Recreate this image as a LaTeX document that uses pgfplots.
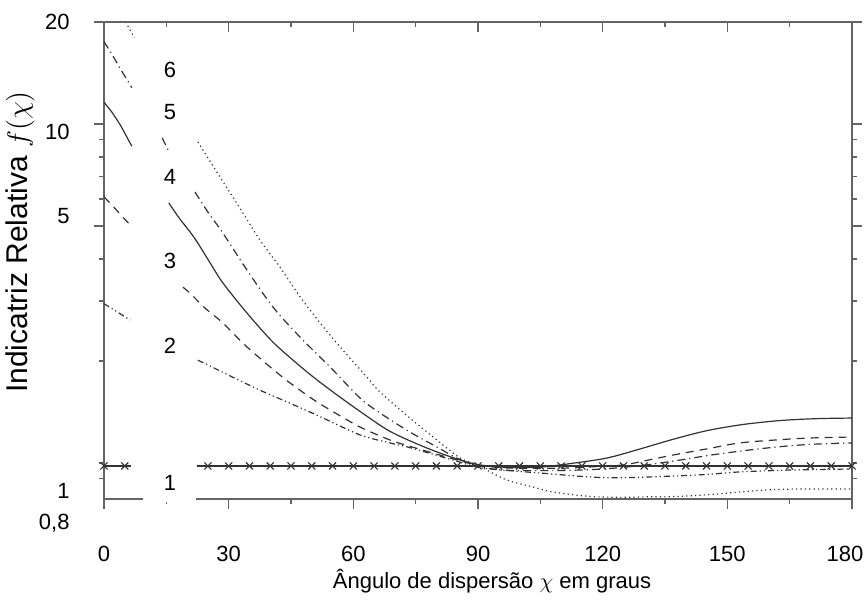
\documentclass[border=0pt]{standalone}
\usepackage{fontspec}
\setmainfont{Liberation Sans}
\usepackage{pgfplots}
\pgfplotsset{compat=1.18}
\definecolor{axgray}{RGB}{100,100,100}
\definecolor{crv}{RGB}{50,50,50}

\begin{document}
\begin{tikzpicture}[font=\fontsize{11}{13}\selectfont]
\begin{axis}[
  name=main,
  scale only axis, width=374pt, height=238.5pt,
  xmin=0, xmax=180, ymin=0.783, ymax=20, ymode=log,
  clip mode=individual,
  axis line style={axgray, line width=0.8pt},
  xtick={0,30,...,180}, minor xtick={15,45,...,165},
  xticklabels={0,30,60,90,120,150,\hspace*{-7pt}180},
  xtick pos=bottom, tick align=outside,
  ytick={5,10,20}, minor ytick={0.9,1,2,3,4,6,7,8,9},
  ytick pos=both, yticklabels={},
  major tick length=5pt, minor tick length=2.5pt,
  every tick/.style={axgray, line width=0.8pt},
  xticklabel style={yshift=-15pt},
  xlabel={Ângulo de dispersão $\chi$ em graus},
  xlabel style={at={(axis description cs:0.5187,-0.1719)}, anchor=center, inner sep=0pt},
  ylabel={Indicatriz Relativa $f(\chi)$},
  ylabel style={at={(axis description cs:-0.1123,0.5388)}, anchor=center, inner sep=0pt,
    font=\fontsize{15}{17}\selectfont},
  every axis plot/.append style={crv, line width=0.6pt},
]
% curve 6 (dotted)
\addplot[dash pattern=on 0.6pt off 1.6pt] coordinates {(4.0,21)(5.0,20.2)(6.0,19.2)(7.3,18.0)};
\addplot[dash pattern=on 0.6pt off 1.6pt, smooth] coordinates {
 (22.6,8.85)(25,7.95)(27.9,6.98)(32.7,5.65)(37.5,4.55)(42.3,3.79)(47.2,3.09)(52,2.59)
 (56.8,2.20)(63.3,1.79)(66.4,1.62)(73.6,1.357)(80.1,1.169)(85.7,1.034)(89.75,0.987)
 (95.3,0.909)(98.4,0.879)(103.2,0.850)(108,0.821)(116.9,0.797)(124.9,0.792)(131.4,0.795)
 (138.6,0.797)(147.5,0.810)(153,0.821)(159.5,0.833)(167.5,0.838)(180,0.838)};
% curve 5 (dash-dot)
\addplot[dash pattern=on 4pt off 2pt on 0.6pt off 2pt] coordinates {(0,17.5)(2,16)(4,14.5)(6.7,12.8)};
\addplot[dash pattern=on 4pt off 2pt on 0.6pt off 2pt] coordinates {(14,9.1)(15.4,8.4)};
\addplot[dash pattern=on 4pt off 2pt on 0.6pt off 2pt, smooth] coordinates {
 (21.9,6.30)(25,5.5)(28.6,4.77)(34.4,3.71)(40.7,2.88)(47.2,2.35)(54.4,1.92)(61.6,1.555)
 (66.4,1.405)(73.6,1.234)(80.1,1.115)(84.9,1.034)(89.75,0.98)(95,0.955)(100,0.95)
 (110,0.95)(120,0.96)(130,0.985)(138.6,1.02)(146,1.055)(154.7,1.09)(162,1.115)
 (170,1.135)(180,1.146)};
% curve 4 (solid)
\addplot[solid] coordinates {(0,11.6)(2,10.8)(4,9.9)(6.7,8.6)};
\addplot[solid, smooth] coordinates {
 (15.6,5.85)(18,5.3)(20.9,4.77)(22.6,4.45)(25.5,3.9)(28.6,3.40)(34.4,2.77)(40.7,2.27)
 (47.2,1.93)(51.3,1.757)(56,1.59)(61.6,1.42)(68.8,1.24)(77.7,1.107)(85.7,1.02)
 (90.5,0.987)(96,0.972)(100,0.97)(105,0.972)(112,0.995)(121,1.034)(129,1.10)
 (137,1.175)(145,1.245)(153,1.295)(160,1.325)(165,1.34)(172,1.352)(180,1.357)};
% curve 3 (dashed)
\addplot[dash pattern=on 4pt off 3pt] coordinates {(0,6.1)(2,5.75)(4.6,5.3)(6.3,5.04)};
\addplot[dash pattern=on 4pt off 3pt, smooth] coordinates {
 (19,3.30)(20.7,3.17)(24.5,2.85)(28.6,2.59)(34.4,2.20)(43,1.79)(50,1.55)(55,1.42)
 (61.6,1.277)(68.8,1.169)(73.6,1.12)(83.3,1.034)(89.7,0.987)(95,0.97)(100,0.965)
 (110,0.965)(118,0.975)(125,0.987)(131,1.02)(137,1.056)(145,1.10)(153,1.146)
 (162,1.17)(170,1.185)(180,1.193)};
% curve 2 (dash-dot-dot)
\addplot[dash pattern=on 3pt off 1.5pt on 0.6pt off 1.5pt on 0.6pt off 1.5pt] coordinates {(0,2.95)(3,2.8)(6.3,2.64)};
\addplot[dash pattern=on 3pt off 1.5pt on 0.6pt off 1.5pt on 0.6pt off 1.5pt, smooth] coordinates {
 (22.6,2.01)(26,1.92)(31,1.79)(38,1.63)(44.8,1.50)(52,1.37)(61.6,1.21)(68.8,1.146)
 (73.6,1.11)(84,1.02)(89.7,0.973)(95,0.955)(105,0.934)(117,0.909)(125,0.905)
 (137,0.915)(145,0.925)(153,0.941)(165,0.953)(180,0.96)};
% curve 1 (x marks)
\addplot[solid] coordinates {(0,0.98)(6.5,0.98)};
\addplot[solid] coordinates {(22.3,0.98)(180,0.98)};
\addplot[only marks, mark=x, mark size=2.5pt, mark options={solid, line width=0.55pt}] coordinates {
 (0,0.98)(5,0.98)(25,0.98)(30,0.98)(35,0.98)(40,0.98)(45,0.98)(50,0.98)(55,0.98)
 (60,0.98)(65,0.98)(70,0.98)(75,0.98)(80,0.98)(85,0.98)(90,0.98)(95,0.98)(100,0.98)
 (105,0.98)(110,0.98)(115,0.98)(120,0.98)(125,0.98)(130,0.98)(135,0.98)(140,0.98)
 (145,0.98)(150,0.98)(155,0.98)(160,0.98)(165,0.98)(170,0.98)(175,0.98)(180,0.98)};
% curve numbers
\node at (axis cs:15.9,14.43) {6};
\node at (axis cs:15.9,10.85) {5};
\node at (axis cs:15.9,6.98) {4};
\node at (axis cs:15.9,3.94) {3};
\node at (axis cs:15.9,2.21) {2};
\node at (axis cs:15.9,0.873) {1};
% y tick labels as printed
\node[anchor=east, inner sep=0pt] at (axis description cs:-0.0455,1.0) {20};
\node[anchor=east, inner sep=0pt] at (axis description cs:-0.0455,0.7694) {10};
\node[anchor=east, inner sep=0pt] at (axis description cs:-0.0455,0.5933) {5};
\node[anchor=east, inner sep=0pt] at (axis description cs:-0.0455,0.0168) {1};
\node[anchor=east, inner sep=0pt] at (axis description cs:-0.0455,-0.0503) {0,8};
\coordinate (gA) at (axis cs:9.4,0.783);
\coordinate (gB) at (axis cs:22.1,0.783);
\coordinate (O) at (rel axis cs:0,0);
\end{axis}
\begin{axis}[
  scale only axis, width=374pt, height=238.5pt,
  xmin=0, xmax=180, ymin=0.783, ymax=20, ymode=log,
  axis x line*=top, axis y line=none,
  x axis line style={-},
  axis line style={axgray, line width=0.8pt},
  xtick={0,30,...,180}, minor xtick={15,45,...,165}, xticklabels={},
  tick align=inside, major tick length=5pt, minor tick length=2.5pt,
  every tick/.style={axgray, line width=0.8pt},
]
\end{axis}
\draw[white, line width=3pt] (gA) -- (gB);
\pgfresetboundingbox
\path (O) ++(-52pt,-51pt) rectangle ++(433.5pt,300.5pt);
\end{tikzpicture}
\end{document}
